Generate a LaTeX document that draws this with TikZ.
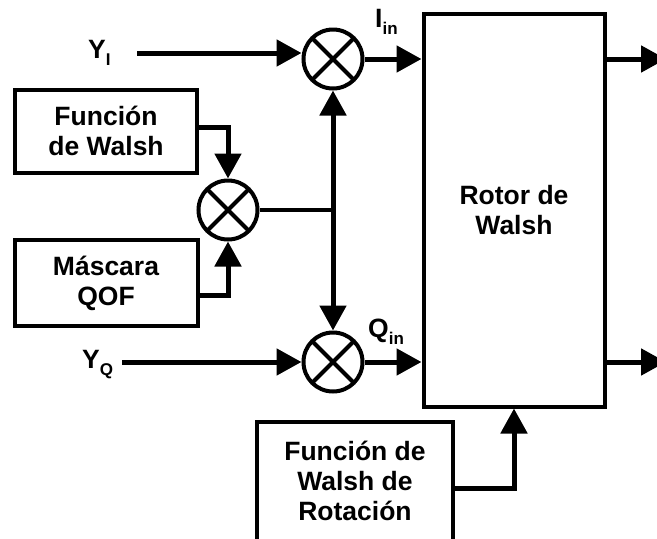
\documentclass[tikz,border=0pt]{standalone}
\usepackage{fontspec}
\setmainfont{Liberation Sans}
\usetikzlibrary{arrows.meta,positioning}
\tikzset{
  block/.style={
    draw,
    line width=4pt,
    inner sep=0pt,
    align=center
  },
  mult/.style={
    shape=circle,
    draw,
    line width=4pt,
    minimum size=59pt,
    inner sep=0pt,
    path picture={
      \draw[line width=4pt]
        (path picture bounding box.north west) -- (path picture bounding box.south east)
        (path picture bounding box.north east) -- (path picture bounding box.south west);
    }
  },
  sig/.style={
    line width=5pt,
    -{Triangle[length=25pt,width=26pt]}
  },
  wire/.style={
    line width=3.5pt
  },
  lbl/.style={
    anchor=base west,
    inner sep=0pt
  },
  every node/.style={
    font=\bfseries\fontsize{26.5}{30}\selectfont
  }
}
\newcommand{\subl}[2]{#1\raisebox{-7pt}{\fontsize{17}{17}\selectfont #2}}

\begin{document}
\begin{tikzpicture}[x=1pt,y=-1pt]
    \clip (0,0) rectangle (657,539);
    \fill[white] (0,0) rectangle (657,539);
    % multipliers
    \node[mult] (mulI) at (333,59) {};
    \node[mult] (mulW) at (228,210) {};
    \node[mult] (mulQ) at (333,362) {};
    % blocks
    \node[block, minimum width=182pt, minimum height=83pt] (walsh) at (106,131) {Función\\de Walsh};
    \node[block, minimum width=183pt, minimum height=86pt] (mask) at (106,283) {Máscara\\QOF};
    \node[block, minimum width=181pt, minimum height=393pt] (rotor) at (514,210) {Rotor de\\Walsh};
    \node[block, minimum width=196pt, minimum height=119pt] (rot) at (355,481) {Función de\\Walsh de\\Rotación};
    % labels
    \node[lbl] (yi) at (88,58) {\subl{Y}{I}};
    \node[lbl] (yq) at (82,368) {\subl{Y}{Q}};
    \node[lbl] (iin) at (375,27) {\subl{I}{in}};
    \node[lbl] (qin) at (368,337) {\subl{Q}{in}};
    \coordinate (yiS) at (137,53);
    \coordinate (yqS) at (122,362);
    \coordinate (jn) at (333,210);
    \coordinate (outI) at (666,59);
    \coordinate (outQ) at (666,362);
    % connectors
    \draw[sig] (yiS) -- (mulI.west |- yiS);
    \draw[sig] (yqS) -- (mulQ.west);
    \draw[sig] (mulI.east) -- (mulI.east -| rotor.west);
    \draw[sig] (mulQ.east) -- (mulQ.east -| rotor.west);
    \draw[sig] (rotor.east |- outI) -- (outI);
    \draw[sig] (rotor.east |- outQ) -- (outQ);
    \draw[wire] (mulW.east) -- (jn);
    \draw[sig] (jn) -- (mulI.south);
    \draw[sig] (jn) -- (mulQ.north);
    \draw[sig] ([yshift=4pt]walsh.east) -| (mulW.north);
    \draw[sig] ([yshift=-12pt]mask.east) -| (mulW.south);
    \draw[sig] ([yshift=-7pt]rot.east) -| (rotor.south);
\end{tikzpicture}
\end{document}
